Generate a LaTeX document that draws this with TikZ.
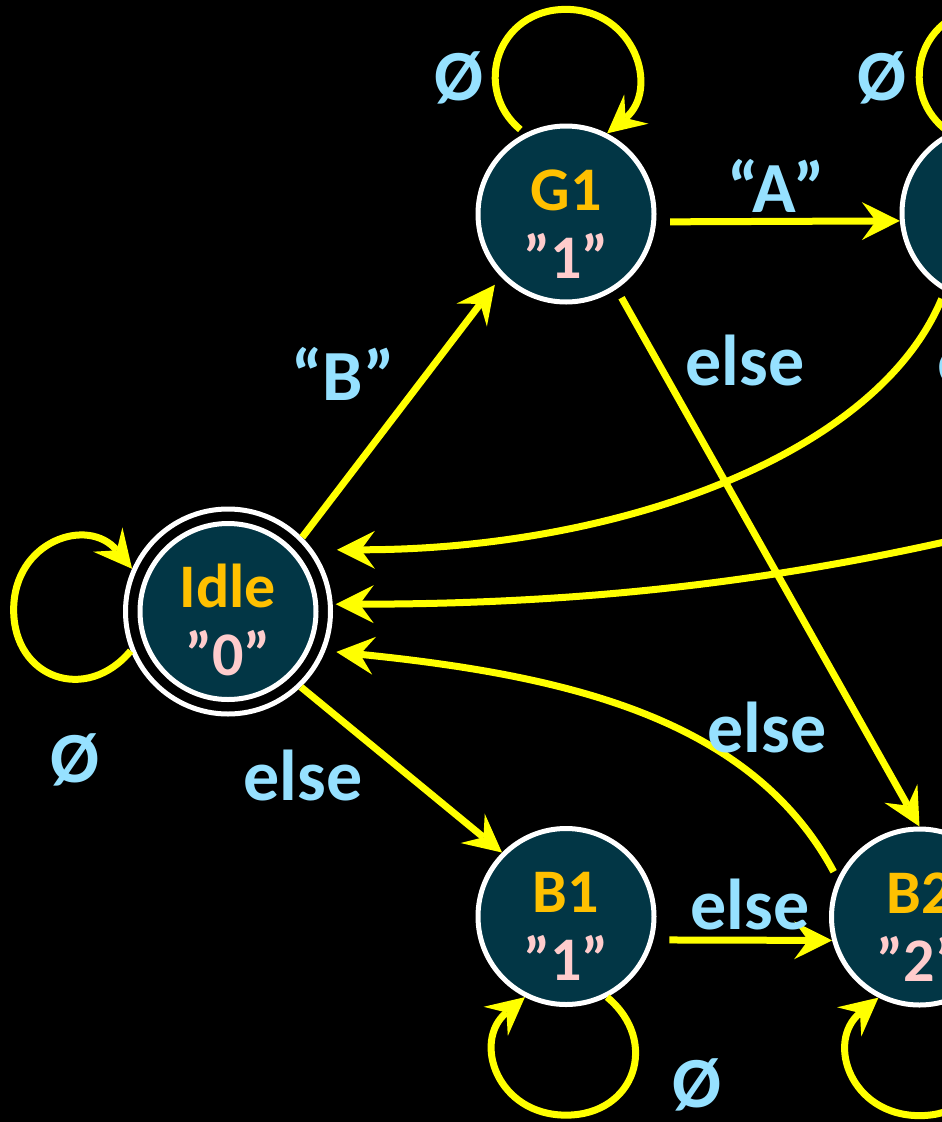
\documentclass[tikz,border=0pt]{standalone}
\usepackage{fontspec}
\setmainfont{Carlito}
\usetikzlibrary{arrows.meta}
\definecolor{stfill}{RGB}{2,54,69}
\definecolor{stname}{RGB}{255,192,0}
\definecolor{stval}{RGB}{255,204,204}
\definecolor{lblue}{RGB}{150,225,255}
\definecolor{ayellow}{RGB}{255,255,0}
\begin{document}
\begin{tikzpicture}[x=1pt,y=1pt,
  st/.style={circle, draw=white, line width=5pt, fill=stfill, minimum size=176pt, inner sep=0pt,
    align=center, text=stname, font=\fontsize{62}{68}\selectfont\bfseries},
  ring/.style={circle, draw=white, line width=5pt, minimum size=205pt, inner sep=0pt},
  tr/.style={draw=ayellow, line width=7pt, -{Stealth[length=38pt,width=38pt,inset=14pt,line width=0pt]}},
  lab/.style={text=lblue, font=\fontsize{72}{80}\selectfont\bfseries, inner sep=0pt, anchor=base},
]
\useasboundingbox (0,0) rectangle (942,-1122);
\fill[black] (0,0) rectangle (942,-1122);
\clip (0,0) rectangle (942,-1122);

% states
\node[ring] (idle) at (228,-611.5) {};
\node[st] (idlein) at (idle) {\rule{0pt}{60pt}Idle\\\textcolor{stval}{”0”}};
\node[st] (G1) at (566,-214) {\rule{0pt}{60pt}G1\\\textcolor{stval}{”1”}};
\node[st] (B1) at (566,-916.5) {\rule{0pt}{60pt}B1\\\textcolor{stval}{”1”}};
\node[st] (B2) at (919.5,-917) {\rule{0pt}{60pt}B2\\\textcolor{stval}{”2”}};
\node[st] (R) at (990,-213) {};
\coordinate (offR) at (1150,-490);

% self loops
\draw[tr, shorten <=6pt] (G1.117) .. controls +(-53,44) and +(-69,0) .. ++(41,124)
      .. controls +(69,0) and +(53,44) .. (G1.63);
\draw[tr, shorten <=6pt] (R.117) .. controls +(-53,44) and +(-69,0) .. ++(41,124)
      .. controls +(69,0) and +(53,44) .. (R.63);
\draw[tr] (B1.-63) .. controls +(53,-44) and +(69,0) .. ++(-41,-118)
      .. controls +(-69,0) and +(-53,-44) .. (B1.-117);
\draw[tr] (B2.-63) .. controls +(53,-44) and +(69,0) .. ++(-41,-118)
      .. controls +(-69,0) and +(-53,-44) .. (B2.-117);
\draw[tr] (idle.202) .. controls +(-44,-53) and +(0,-69) .. ++(-117,41)
      .. controls +(0,69) and +(-44,53) .. (idle.156);

% straight transitions
\draw[tr, shorten >=10pt] (idle.45) -- (G1.224);
\draw[tr, shorten <=14pt] (G1.-5) -- (R.185);
\draw[tr, shorten <=10pt] (G1.-56) -- (B2.north);
\draw[tr] (idle.-46) -- (B1.135);
\draw[tr, shorten <=16pt] (B1.-15) -- (B2.195);

% curved transitions back to Idle
\draw[tr, shorten <=8pt, shorten >=24pt] (R.240) .. controls +(-69,-166) and +(300,0) .. (idle.36.5);
\draw[tr, shorten >=3pt] (offR) .. controls +(-240,-67) and +(350,0) .. (idle.4);
\draw[tr, shorten <=8pt, shorten >=11pt] (B2.155) .. controls +(-85,158) and +(248,-25) .. (idle.-22);

% labels
\node[lab] (lA) at (776,-212) {“A”};
\node[lab] (lB) at (343,-400) {“B”};
\node[lab] (le1) at (745,-385) {else};
\node[lab] (le2) at (303,-800) {else};
\node[lab] (le3) at (767,-752) {else};
\node[lab] (le4) at (750,-929) {else};
\node[lab, anchor=base west] (le5) at (937,-385) {else};
\node[lab] (ph1) at (75,-782) {Ø};
\node[lab] (ph2) at (459,-100) {Ø};
\node[lab] (ph3) at (882,-100) {Ø};
\node[lab] (ph4) at (697,-1107) {Ø};
\end{tikzpicture}
\end{document}
